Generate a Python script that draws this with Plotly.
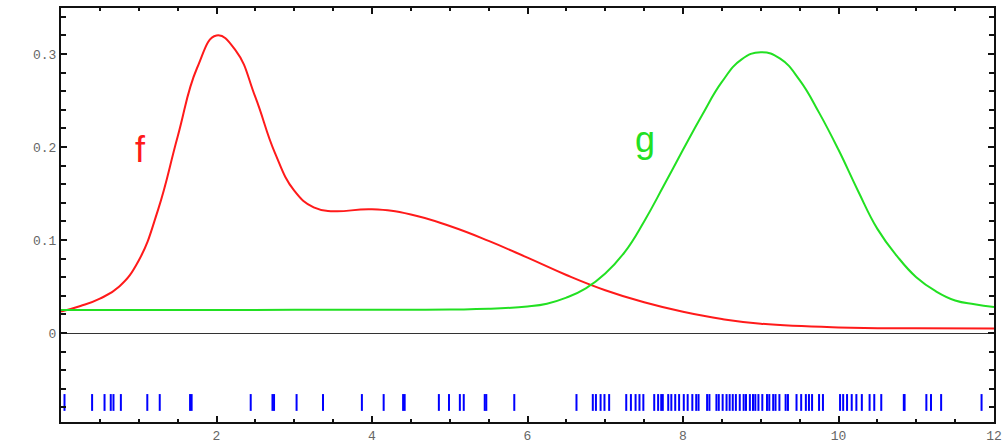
import plotly.graph_objects as go

# ---- data ----
f_x = [0.0, 0.25, 0.5, 0.75, 1.0, 1.25, 1.5, 1.75, 2.0, 2.25, 2.5, 2.75, 3.0, 3.25,
       3.5, 4.0, 4.5, 5.0, 5.5, 6.0, 6.5, 7.0, 7.5, 8.0, 8.5, 9.0, 10.0, 11.0, 12.0]
f_y = [0.023, 0.029, 0.037, 0.050, 0.078, 0.133, 0.211, 0.285, 0.320, 0.3035, 0.2536,
       0.194, 0.153, 0.135, 0.131, 0.133, 0.1275, 0.115, 0.099, 0.081, 0.0624, 0.046,
       0.033, 0.0228, 0.015, 0.010, 0.006, 0.005, 0.0048]

g_x = [0.0, 3.0, 5.0, 5.5, 6.0, 6.25, 6.5, 6.75, 7.0, 7.25, 7.5, 7.75, 8.0, 8.25, 8.5,
       8.75, 9.0, 9.25, 9.5, 9.75, 10.0, 10.25, 10.5, 10.75, 11.0, 11.25, 11.5, 11.75, 12.0]
g_y = [0.0247, 0.0249, 0.0253, 0.026, 0.0285, 0.0315, 0.038, 0.048, 0.064, 0.087, 0.120,
       0.158, 0.197, 0.235, 0.270, 0.294, 0.302, 0.295, 0.272, 0.237, 0.197, 0.153, 0.112,
       0.083, 0.060, 0.045, 0.035, 0.031, 0.028]

rug_x = [0.045, 0.40, 0.56, 0.64, 0.675, 0.77, 1.11, 1.27, 1.66, 1.68, 2.44, 2.72, 2.74,
         3.03, 3.37, 3.87, 4.15, 4.40, 4.42, 4.86, 4.99, 5.13, 5.18, 5.45, 5.47, 5.83,
         6.63, 6.84, 6.88, 6.94, 6.99, 7.05, 7.27, 7.33, 7.39, 7.44, 7.49, 7.63, 7.68,
         7.72, 7.74, 7.81, 7.85, 7.90, 7.95, 8.01, 8.06, 8.12, 8.17, 8.20, 8.31, 8.34,
         8.43, 8.46, 8.51, 8.56, 8.60, 8.64, 8.68, 8.73, 8.78, 8.81, 8.86, 8.90, 8.93,
         8.97, 9.02, 9.08, 9.11, 9.16, 9.19, 9.24, 9.32, 9.35, 9.46, 9.52, 9.58, 9.62,
         9.66, 9.75, 9.80, 10.02, 10.06, 10.11, 10.17, 10.23, 10.30, 10.40, 10.46, 10.55,
         10.84, 10.85, 11.13, 11.19, 11.32, 11.84]

x_ticks = [2, 4, 6, 8, 10, 12]
y_ticks = [0, 0.1, 0.2, 0.3]
y_tick_text = ["0", "0.1", "0.2", "0.3"]

RUG_LEVEL = -0.0747
RED = "#ff1a1a"
GREEN = "#22e022"

fig = go.Figure()
fig.add_trace(go.Scatter(x=f_x, y=f_y, mode="lines",
                         line=dict(color=RED, width=2, shape="spline", smoothing=1.3),
                         hoverinfo="skip", showlegend=False))
fig.add_trace(go.Scatter(x=g_x, y=g_y, mode="lines",
                         line=dict(color=GREEN, width=2, shape="spline", smoothing=1.3),
                         hoverinfo="skip", showlegend=False))
fig.add_trace(go.Scatter(x=rug_x, y=[RUG_LEVEL] * len(rug_x), mode="markers",
                         marker=dict(symbol="line-ns", size=12, line=dict(color="#0000ff", width=2)),
                         hoverinfo="skip", showlegend=False))

fig.add_annotation(x=1.02, y=0.197, text="f", showarrow=False,
                   font=dict(family="Liberation Sans, Arial", size=36, color=RED))
fig.add_annotation(x=7.51, y=0.208, text="g", showarrow=False,
                   font=dict(family="Liberation Sans, Arial", size=36, color=GREEN))

tickfont = dict(family="Liberation Mono, DejaVu Sans Mono", size=13, color="#666666")

fig.update_xaxes(range=[0, 12], showgrid=False, zeroline=False, automargin=False,
                 showline=True, linecolor="#111111", linewidth=2, mirror="ticks",
                 ticks="inside", ticklen=6, tickwidth=1.5, tickcolor="#111111",
                 tickvals=x_ticks, ticktext=[str(v) for v in x_ticks], tickfont=tickfont,
                 minor=dict(ticks="inside", dtick=0.5, tick0=0, ticklen=3, tickwidth=1.5,
                            tickcolor="#111111"))
fig.update_yaxes(range=[-0.0957, 0.3495], showgrid=False, automargin=False,
                 zeroline=True, zerolinecolor="#333333", zerolinewidth=1,
                 showline=True, linecolor="#111111", linewidth=2, mirror="ticks",
                 ticks="inside", ticklen=6, tickwidth=1.5, tickcolor="#111111",
                 tickvals=y_ticks, ticktext=y_tick_text, tickfont=tickfont,
                 minor=dict(ticks="inside", dtick=0.02, tick0=0, ticklen=5, tickwidth=1.5,
                            tickcolor="#111111"))

fig.update_layout(width=1003, height=446, margin=dict(l=61, r=9, t=8, b=24),
                  plot_bgcolor="white", paper_bgcolor="white")

fig.write_html("out.html", config={"displayModeBar": False},
               post_script="document.body.style.margin='0';")
